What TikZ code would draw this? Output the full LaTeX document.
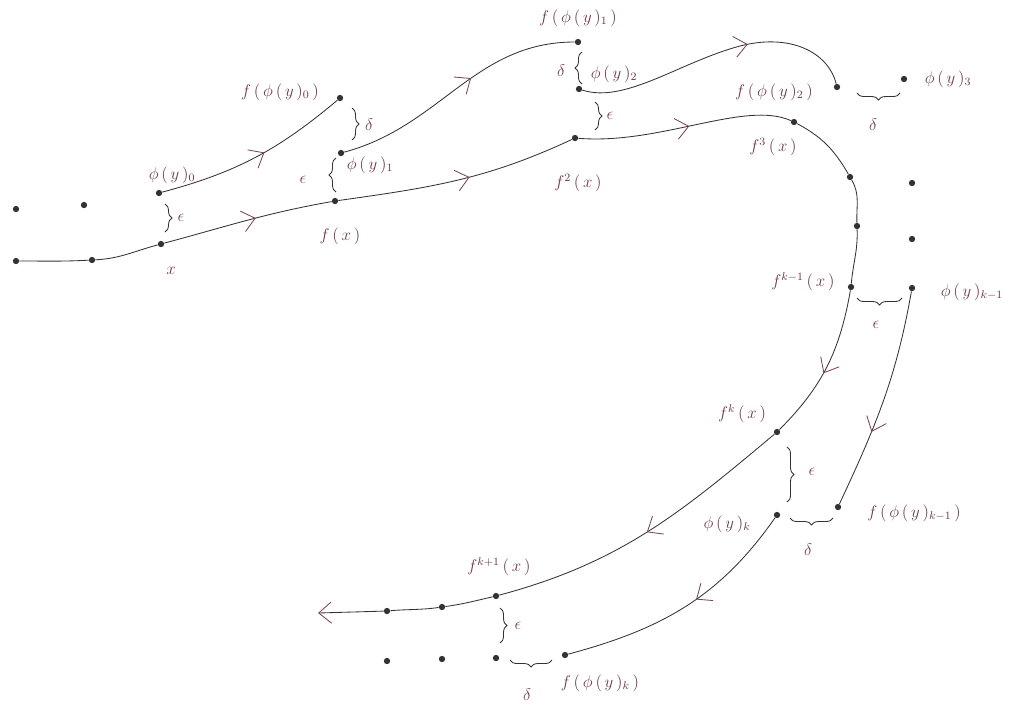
\documentclass[tikz,border=0pt]{standalone}
\usetikzlibrary{decorations.markings,decorations.pathreplacing,arrows.meta}
\definecolor{lab}{RGB}{110,55,72}
\definecolor{ln}{RGB}{55,50,50}
\definecolor{arr}{RGB}{120,70,82}
\newcommand{\lsp}{\mskip 3mu}
\tikzset{
 x=0.025cm, y=-0.025cm,
 pt/.style={circle,fill=ln,inner sep=0pt,minimum size=4.5pt},
 lbl/.style={text=lab,font=\fontsize{12}{14}\selectfont,inner sep=1pt},
 gk/.style={text=lab!85!gray,font=\fontsize{12}{14}\selectfont,inner sep=1pt},
 curve/.style={draw=ln,line width=0.6pt},
 marr/.style={postaction={decorate,decoration={markings,mark=at position #1 with {\arrow[arr,line width=0.6pt]{Straight Barb[length=9pt,width=15pt]}}}}},
 brc/.style={draw=ln,line width=0.6pt,decorate,decoration={brace,amplitude=5pt}},
}
\begin{document}
\begin{tikzpicture}
\useasboundingbox (0,0) rectangle (1010,706);
% points
\node[pt] (l1) at (16,261) {};
\node[pt] (l2) at (92,260) {};
\node[pt] (x) at (161,244) {};
\node[pt] (u1) at (16,209) {};
\node[pt] (u2) at (84,205) {};
\node[pt] (p0) at (159,193) {};
\node[pt] (fp0) at (340,98) {};
\node[pt] (p1) at (341,153) {};
\node[pt] (fx) at (335,201) {};
\node[pt] (fp1) at (578,42) {};
\node[pt] (p2) at (579,89) {};
\node[pt] (f2x) at (575,138) {};
\node[pt] (fp2) at (837,87) {};
\node[pt] (p3) at (904,79) {};
\node[pt] (f3x) at (794,122) {};
\node[pt] (d1) at (850,177) {};
\node[pt] (e1) at (912,183) {};
\node[pt] (d2) at (857,226) {};
\node[pt] (e2) at (912,239) {};
\node[pt] (fkmx) at (851,287) {};
\node[pt] (pkm) at (912,288) {};
\node[pt] (fkx) at (777,432) {};
\node[pt] (fpkm) at (838,507) {};
\node[pt] (pk) at (777,515) {};
\node[pt] (fkpx) at (496,596) {};
\node[pt] (b2) at (442,607) {};
\node[pt] (b1) at (387,611) {};
\coordinate (tip) at (318,613);
\node[pt] (c1) at (387,661) {};
\node[pt] (c2) at (442,659) {};
\node[pt] (c3) at (496,658) {};
\node[pt] (fpk) at (565,655) {};
% main orbit of x
\draw[curve] (l1) to[out=0,in=183] (l2);
\draw[curve] (l2) to[out=3,in=195] (x);
\draw[curve,marr=0.55] (x) to[out=15,in=190] (fx);
\draw[curve,marr=0.55] (fx) to[out=8,in=205] (f2x);
\draw[curve,marr=0.52] (f2x) .. controls (660,145) and (745,100) .. (f3x);
\draw[curve] (f3x) to[out=-28,in=120] (d1);
\draw[curve] (d1) to[out=-60,in=92] (d2);
\draw[curve] (d2) to[out=-88,in=85] (fkmx);
\draw[curve,marr=0.55] (fkmx) to[out=-100,in=45] (fkx);
\draw[curve,marr=0.5] (fkx) to[out=-140,in=15] (fkpx);
\draw[curve] (fkpx) to[out=-167,in=8] (b2);
\draw[curve] (b2) to[out=-172,in=5] (b1);
\draw[curve,-{Straight Barb[length=9pt,width=15pt,color=arr]}] (b1) -- (tip);
% pseudo orbit pieces
\draw[curve,marr=0.55] (p0) to[out=15,in=220] (fp0);
\draw[curve,marr=0.57] (p1) to[out=15,in=180] (fp1);
\draw[curve,marr=0.62] (p2) .. controls (625,104) and (680,62) .. (740,46) .. controls (790,33) and (828,52) .. (fp2);
\draw[curve,marr=0.65] (pkm) to[out=-100,in=65] (fpkm);
\draw[curve,marr=0.45] (pk) to[out=-125,in=15] (fpk);
% labels
\node[lbl] (Lx) at (171,271) {$x$};
\node[lbl] (Lp0) at (172,175) {$\phi\lsp(\lsp y\lsp)_0$};
\node[lbl] (Lfp0) at (280,92) {$f\lsp(\lsp\phi\lsp(\lsp y\lsp)_0\lsp)$};
\node[lbl] (Lp1) at (370,165) {$\phi\lsp(\lsp y\lsp)_1$};
\node[lbl] (Lfx) at (340,236) {$f\lsp(\lsp x\lsp)$};
\node[lbl] (Lfp1) at (578,18) {$f\lsp(\lsp\phi\lsp(\lsp y\lsp)_1\lsp)$};
\node[lbl] (Lp2) at (614,74) {$\phi\lsp(\lsp y\lsp)_2$};
\node[lbl] (Lf2x) at (578,183) {$f^2\lsp(\lsp x\lsp)$};
\node[lbl] (Lfp2) at (774,92) {$f\lsp(\lsp\phi\lsp(\lsp y\lsp)_2\lsp)$};
\node[lbl] (Lp3) at (948,79) {$\phi\lsp(\lsp y\lsp)_3$};
\node[lbl] (Lf3x) at (773,147) {$f^3\lsp(\lsp x\lsp)$};
\node[lbl] (Lfkmx) at (803,282) {$f^{k-1}\lsp(\lsp x\lsp)$};
\node[lbl] (Lpkm) at (972,292) {$\phi\lsp(\lsp y\lsp)_{k-1}$};
\node[lbl] (Lfkx) at (742,414) {$f^k\lsp(\lsp x\lsp)$};
\node[lbl] (Lpk) at (727,524) {$\phi\lsp(\lsp y\lsp)_k$};
\node[lbl] (Lfpkm) at (914,513) {$f\lsp(\lsp\phi\lsp(\lsp y\lsp)_{k-1}\lsp)$};
\node[lbl] (Lfkpx) at (499,567) {$f^{k+1}\lsp(\lsp x\lsp)$};
\node[lbl] (Lfpk) at (600,683) {$f\lsp(\lsp\phi\lsp(\lsp y\lsp)_k\lsp)$};
% braces and their labels
\draw[brc] (165,204) -- (165,232);
\node[gk] (g1) at (181,218) {$\epsilon$};
\draw[brc] (352,108) -- (352,140);
\node[gk] (g2) at (369,125) {$\delta$};
\draw[brc] (336,192) -- (336,158);
\node[gk] (g3) at (303,180) {$\epsilon$};
\draw[brc] (582,84) -- (582,52);
\node[gk] (g4) at (561,71) {$\delta$};
\draw[brc] (595,102) -- (595,130);
\node[gk] (g5) at (610,116) {$\epsilon$};
\draw[brc] (900,93) -- (857,93);
\node[gk] (g6) at (873,125) {$\delta$};
\draw[brc] (902,298) -- (857,298);
\node[gk] (g7) at (876,325) {$\epsilon$};
\draw[brc] (787,447) -- (787,502);
\node[gk] (g8) at (812,472) {$\epsilon$};
\draw[brc] (833,518) -- (790,518);
\node[gk] (g9) at (808,550) {$\delta$};
\draw[brc] (500,608) -- (500,643);
\node[gk] (g10) at (518,626) {$\epsilon$};
\draw[brc] (552,660) -- (510,660);
\node[gk] (g11) at (527,695) {$\delta$};
\end{tikzpicture}
\end{document}
